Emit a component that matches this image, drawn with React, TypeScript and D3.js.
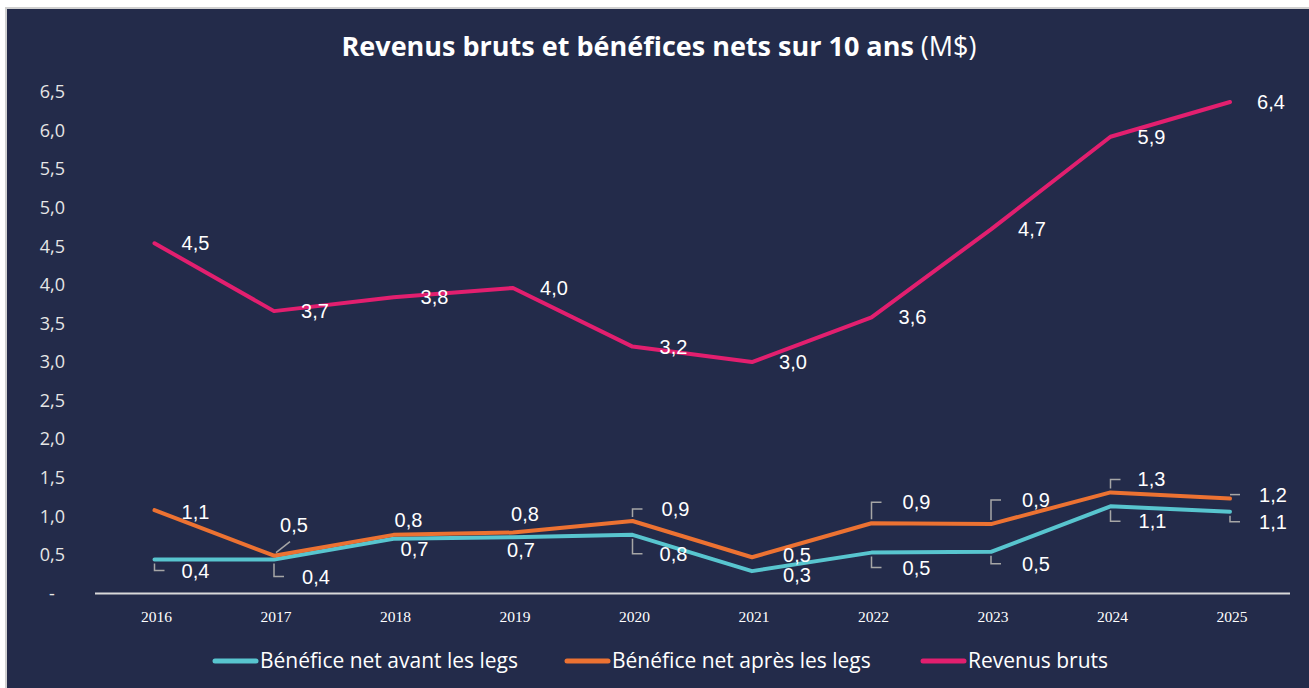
import React from "react";
import * as d3 from "d3";

const years = ["2016", "2017", "2018", "2019", "2020", "2021", "2022", "2023", "2024", "2025"];
const revenusBruts = [4.54, 3.66, 3.84, 3.96, 3.2, 3.0, 3.58, 4.72, 5.92, 6.37];
const beneficeApres = [1.08, 0.49, 0.76, 0.79, 0.94, 0.47, 0.91, 0.9, 1.31, 1.23];
const beneficeAvant = [0.44, 0.44, 0.71, 0.73, 0.76, 0.29, 0.53, 0.54, 1.13, 1.06];
const yTicks = [0, 0.5, 1, 1.5, 2, 2.5, 3, 3.5, 4, 4.5, 5, 5.5, 6, 6.5];

const seriesNames = ["Bénéfice net avant les legs", "Bénéfice net après les legs", "Revenus bruts"];
const colors = ["#58C5CF", "#EC7232", "#E21F6F"];

// label placement (layout): [dx, dy] from the point, and leader type
const offRev: [number, number][] = years.map(() => [41, 0]);
const offApres: [number, number][] = [[41, 2], [20, -31], [15, -15], [12, -19], [43, -12], [45, -2], [45, -21], [45, -24], [41, -13], [43, -4]];
const offAvant: [number, number][] = [[41, 11], [42, 17], [21, 10], [8, 13], [41, 19], [45, 4], [45, 15], [45, 12], [42, 15], [43, 10]];
const leadApres = ["", "d", "", "", "b", "", "b", "b", "b", "b"];
const leadAvant = ["b", "b", "", "", "b", "", "b", "b", "b", "b"];

const W = 1309, H = 688;
const BG = "#232B4A";

const fmt = (v: number) => v.toFixed(1).replace(".", ",");

export default function App() {
  const x = d3.scalePoint<string>().domain(years).range([154.5, 1230]);
  const y = d3.scaleLinear().domain([0, 6.5]).range([593.5, 92]);
  const line = d3.line<number>().x((_, i) => x(years[i]) as number).y((v) => y(v));

  const series = [
    { vals: beneficeAvant, color: colors[0], off: offAvant, lead: leadAvant },
    { vals: beneficeApres, color: colors[1], off: offApres, lead: leadApres },
    { vals: revenusBruts, color: colors[2], off: offRev, lead: years.map(() => "") },
  ];

  const leaderPath = (px: number, py: number, ly: number, type: string) => {
    if (type === "b") {
      const s = ly < py ? -4 : 4;
      return `M${px},${py + s}V${ly}H${px + 10}`;
    }
    if (type === "d") {
      return `M${px + 2},${py - 3}L${px + 16},${py - 14}`;
    }
    return "";
  };

  const legendItems = [
    { lx: 215, tx: 260 },
    { lx: 567, tx: 612 },
    { lx: 923, tx: 968 },
  ];

  return (
    <svg
      width={W}
      height={H}
      style={{ position: "absolute", left: 0, top: 0, display: "block" }}
    >
      <rect x={0} y={0} width={W} height={H} fill="#ffffff" />
      <rect x={5} y={7} width={W - 5} height={H - 7} fill="#d0d0d0" />
      <rect x={7} y={9} width={W - 7} height={H - 9} fill={BG} />

      <text
        x={659}
        y={56}
        textAnchor="middle"
        fill="#ffffff"
        style={{ fontFamily: "'Open Sans', sans-serif", fontSize: 27 }}
      >
        <tspan fontWeight="bold">Revenus bruts et bénéfices nets sur 10 ans</tspan>
        <tspan> (M$)</tspan>
      </text>

      {/* y tick labels */}
      {yTicks.map((t) =>
        t === 0 ? (
          <text key={t} x={52} y={y(t)} dy="0.35em" textAnchor="middle" fill="#e6e6e6"
            style={{ fontFamily: "'Open Sans', sans-serif", fontSize: 18 }}>-</text>
        ) : (
          <text key={t} x={65} y={y(t)} dy="0.35em" textAnchor="end" fill="#e6e6e6"
            style={{ fontFamily: "'Open Sans', sans-serif", fontSize: 18 }}>{fmt(t)}</text>
        )
      )}

      {/* x axis */}
      <line x1={95} x2={1290} y1={593.5} y2={593.5} stroke="#d9d9d9" strokeWidth={2} />
      {years.map((yr) => (
        <text key={yr} x={(x(yr) as number) + 2} y={617} dy="0.35em" textAnchor="middle" fill="#ffffff"
          style={{ fontFamily: "'Liberation Serif', serif", fontSize: 15.5 }}>{yr}</text>
      ))}

      {/* lines */}
      {series.map((s, si) => (
        <path key={si} d={line(s.vals) || ""} fill="none" stroke={s.color} strokeWidth={4}
          strokeLinejoin="round" strokeLinecap="round" />
      ))}

      {/* leaders */}
      {series.map((s, si) =>
        s.vals.map((v, i) => {
          const px = x(years[i]) as number;
          const py = y(v);
          const d = leaderPath(px, py, py + s.off[i][1], s.lead[i]);
          return d ? <path key={`l${si}-${i}`} d={d} fill="none" stroke="#a6a6a6" strokeWidth={1.5} /> : null;
        })
      )}

      {/* data labels */}
      {series.map((s, si) =>
        s.vals.map((v, i) => {
          const px = x(years[i]) as number;
          const py = y(v);
          return (
            <text key={`t${si}-${i}`} x={px + s.off[i][0]} y={py + s.off[i][1]} dy="0.35em"
              textAnchor="middle" fill="#ffffff"
              style={{ fontFamily: "'Liberation Sans', Arial, sans-serif", fontSize: 20 }}>
              {fmt(v)}
            </text>
          );
        })
      )}

      {/* legend */}
      {seriesNames.map((n, i) => (
        <g key={n}>
          <line x1={legendItems[i].lx} x2={legendItems[i].lx + 41} y1={661} y2={661}
            stroke={colors[i]} strokeWidth={5} strokeLinecap="round" />
          <text x={legendItems[i].tx} y={661} dy="0.35em" fill="#ffffff"
            style={{ fontFamily: "'Open Sans', sans-serif", fontSize: 21 }}>{n}</text>
        </g>
      ))}
    </svg>
  );
}
